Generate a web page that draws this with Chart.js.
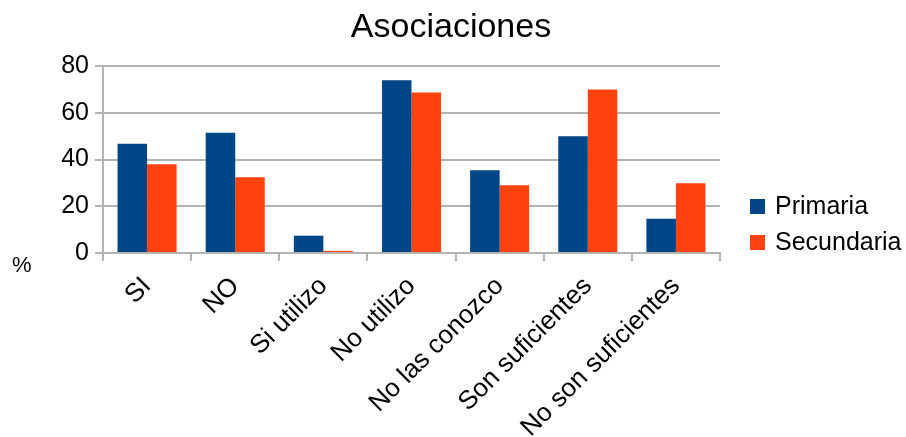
<!DOCTYPE html>
<html>
<head>
<meta charset="utf-8">
<script src="https://cdn.jsdelivr.net/npm/chart.js@4/dist/chart.umd.min.js"></script>
<style>
  html, body { margin: 0; padding: 0; background: #fff; }
  #wrap { width: 906px; height: 437px; position: relative; }
</style>
</head>
<body>
<div id="wrap"><canvas id="chart"></canvas></div>
<script>
const categories = ["SI", "NO", "Si utilizo", "No utilizo", "No las conozco", "Son suficientes", "No son suficientes"];
const primaria = [46.7, 51.4, 7.4, 73.9, 35.4, 49.9, 14.7];
const secundaria = [38.0, 32.4, 0.9, 68.7, 29.0, 70.0, 29.8];
const seriesNames = ["Primaria", "Secundaria"];
const seriesColors = ["#004586", "#ff420e"];
const yTicks = [0, 20, 40, 60, 80];
const chartTitle = "Asociaciones";

const FONT = "'Liberation Sans', Arial, sans-serif";

// title centred on the whole page, "%" at the lower left, legend right of the plot
const extras = {
  id: "extras",
  afterDraw(chart) {
    const ctx = chart.ctx;
    const area = chart.chartArea;
    const y0 = chart.scales.y.getPixelForValue(0);
    ctx.save();
    ctx.fillStyle = "#000";
    ctx.font = "34px " + FONT;
    ctx.textAlign = "center";
    ctx.textBaseline = "alphabetic";
    ctx.fillText(chartTitle, chart.width / 2 - 2, 37);

    ctx.font = "22px " + FONT;
    ctx.textAlign = "left";
    ctx.textBaseline = "middle";
    ctx.fillText("%", 12, y0 + 13);

    ctx.font = "25px " + FONT;
    chart.data.datasets.forEach((ds, i) => {
      const cy = area.bottom - 46 + i * 36;
      ctx.fillStyle = ds.backgroundColor;
      ctx.fillRect(area.right + 30, cy - 8, 15, 15);
      ctx.fillStyle = "#000";
      ctx.fillText(ds.label, area.right + 55, cy);
    });
    ctx.restore();
  }
};

new Chart(document.getElementById("chart"), {
  type: "bar",
  data: {
    labels: categories,
    datasets: [
      { label: seriesNames[0], data: primaria, backgroundColor: seriesColors[0] },
      { label: seriesNames[1], data: secundaria, backgroundColor: seriesColors[1] }
    ]
  },
  options: {
    responsive: true,
    maintainAspectRatio: false,
    animation: false,
    datasets: { bar: { barPercentage: 1, categoryPercentage: 0.67 } },
    layout: { padding: { left: 0, right: 186, top: 66, bottom: -3 } },
    plugins: {
      legend: { display: false },
      tooltip: { enabled: false }
    },
    scales: {
      x: {
        grid: { drawOnChartArea: false, drawTicks: true, tickLength: 8, color: "#b3b3b3", lineWidth: 2 },
        border: { color: "#b3b3b3", width: 2 },
        ticks: {
          color: "#000",
          font: { family: FONT, size: 26 },
          minRotation: 45,
          maxRotation: 45,
          padding: 10
        }
      },
      y: {
        min: 0,
        max: 80,
        afterFit: scale => { scale.width = 103; },
        grid: { color: "#b3b3b3", lineWidth: 2, tickLength: 8 },
        border: { color: "#b3b3b3", width: 2 },
        ticks: {
          stepSize: 10,
          color: "#000",
          font: { family: FONT, size: 25 },
          padding: 6,
          callback: v => yTicks.includes(v) ? v : ""
        }
      }
    }
  },
  plugins: [extras]
});
</script>
</body>
</html>
